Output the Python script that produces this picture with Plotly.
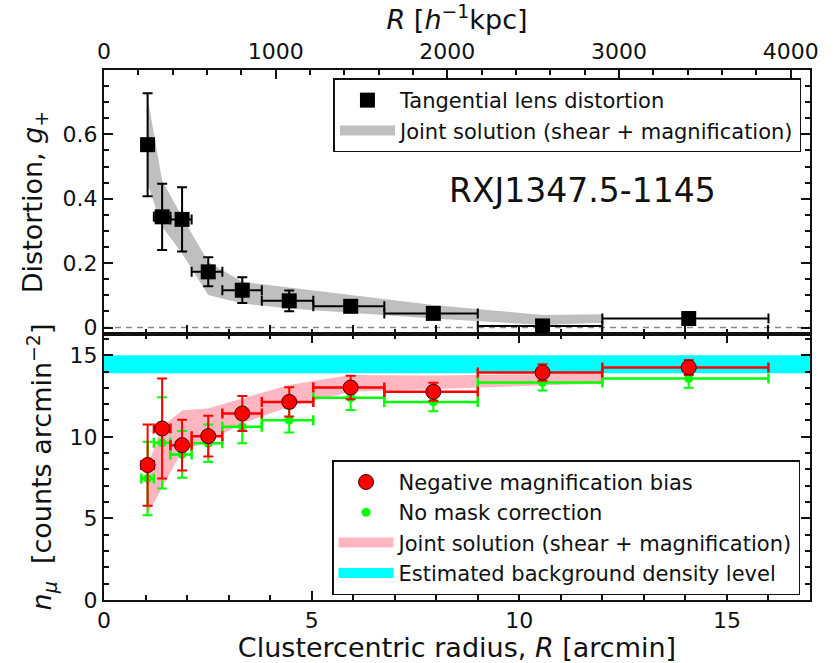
import plotly.graph_objects as go

# ---------------- data ----------------
R_arcmin = [1.05, 1.40, 1.88, 2.51, 3.33, 4.46, 5.94, 7.93, 10.56, 14.08]
bin_lo = [0.90, 1.20, 1.60, 2.11, 2.85, 3.80, 5.04, 6.75, 9.00, 12.00]
bin_hi = [1.20, 1.60, 2.11, 2.85, 3.80, 5.04, 6.75, 9.00, 12.00, 16.00]

g_plus = [0.568, 0.344, 0.336, 0.173, 0.116, 0.083, 0.066, 0.044, 0.005, 0.028]
g_err = [0.160, 0.103, 0.100, 0.045, 0.040, 0.032, 0.015, 0.015, 0.015, 0.015]

g_band_R = [1.04, 1.40, 1.88, 2.51, 3.33, 4.46, 5.94, 7.93, 10.56, 12.0]
g_band_hi = [0.721, 0.457, 0.344, 0.204, 0.142, 0.124, 0.101, 0.070, 0.039, 0.041]
g_band_lo = [0.450, 0.313, 0.230, 0.101, 0.075, 0.059, 0.046, 0.028, 0.008, 0.015]

n_mu = [8.27, 10.51, 9.49, 10.04, 11.43, 12.14, 13.02, 12.76, 13.94, 14.25]
n_mu_err = [2.49, 3.06, 1.55, 1.25, 1.07, 0.90, 0.72, 0.55, 0.50, 0.46]
n_nomask = [7.45, 9.63, 8.92, 9.60, 10.61, 11.02, 12.39, 12.14, 13.33, 13.57]
n_nomask_err = [2.25, 2.80, 1.43, 1.15, 1.00, 0.75, 0.75, 0.57, 0.50, 0.57]

n_band_R = [1.02, 1.39, 1.89, 2.50, 3.33, 4.46, 5.94, 7.93, 10.56, 12.0]
n_band_hi = [7.96, 10.61, 11.63, 11.74, 12.35, 13.17, 13.78, 13.75, 13.84, 13.88]
n_band_lo = [5.10, 6.84, 9.19, 9.69, 10.82, 11.84, 12.76, 12.90, 13.15, 13.27]

bkg_R = [0.0, 17.0]
bkg_level = [13.9, 15.0]

R_range = [0, 17]
kpc_per_arcmin = 241.9
g_ticks = [0, 0.2, 0.4, 0.6]
g_ticktext = ["0", "0.2", "0.4", "0.6"]

# derived error arrays
x_plus = [h - r for h, r in zip(bin_hi, R_arcmin)]
x_minus = [r - l for l, r in zip(bin_lo, R_arcmin)]

FONT = "DejaVu Sans"
INK = "#111111"
GRAY_BAND = "#bfbfbf"
PINK_BAND = "#ffb6c1"
CYAN = "#00ffff"

fig = go.Figure()

# ---------------- top panel ----------------
fig.add_trace(go.Scatter(
    x=g_band_R + g_band_R[::-1], y=g_band_hi + g_band_lo[::-1],
    fill="toself", fillcolor=GRAY_BAND, line=dict(width=0), mode="lines",
    showlegend=False, xaxis="x2", yaxis="y2", hoverinfo="skip"))

fig.add_trace(go.Scatter(
    x=R_arcmin, y=g_plus, mode="markers",
    marker=dict(symbol="square", size=15, color="black"),
    error_y=dict(type="data", array=g_err, color="black", thickness=2, width=5),
    error_x=dict(type="data", array=x_plus, arrayminus=x_minus, color="black",
                 thickness=2, width=5),
    name="Tangential lens distortion",
    xaxis="x2", yaxis="y2", legend="legend", legendrank=1))

# legend patch for the gray band
fig.add_trace(go.Scatter(
    x=[None], y=[None], mode="lines", line=dict(color=GRAY_BAND, width=15),
    name="Joint solution (shear + magnification)",
    xaxis="x2", yaxis="y2", legend="legend", legendrank=2, hoverinfo="skip"))

# invisible helper for the kpc axis
fig.add_trace(go.Scatter(
    x=[R_range[0] * kpc_per_arcmin, R_range[1] * kpc_per_arcmin], y=[None, None],
    mode="markers", showlegend=False, hoverinfo="skip",
    xaxis="x3", yaxis="y2"))

# ---------------- bottom panel ----------------
fig.add_trace(go.Scatter(
    x=[bkg_R[0], bkg_R[1], bkg_R[1], bkg_R[0]],
    y=[bkg_level[0], bkg_level[0], bkg_level[1], bkg_level[1]],
    fill="toself", fillcolor=CYAN, line=dict(width=0), mode="lines",
    showlegend=False, xaxis="x", yaxis="y", hoverinfo="skip"))

fig.add_trace(go.Scatter(
    x=n_band_R + n_band_R[::-1], y=n_band_hi + n_band_lo[::-1],
    fill="toself", fillcolor=PINK_BAND, line=dict(width=0), mode="lines",
    showlegend=False, xaxis="x", yaxis="y", hoverinfo="skip"))

fig.add_trace(go.Scatter(
    x=R_arcmin, y=n_nomask, mode="markers",
    marker=dict(symbol="circle", size=9, color="#00ff00"),
    error_y=dict(type="data", array=n_nomask_err, color="#00ff00", thickness=2, width=5),
    error_x=dict(type="data", array=x_plus, arrayminus=x_minus, color="#00ff00",
                 thickness=2.5, width=5),
    name="No mask correction",
    xaxis="x", yaxis="y", legend="legend2", legendrank=2))

fig.add_trace(go.Scatter(
    x=R_arcmin, y=n_mu, mode="markers",
    marker=dict(symbol="circle", size=15, color="#ff0000",
                line=dict(color="#3a0000", width=1)),
    error_y=dict(type="data", array=n_mu_err, color="#ff0000", thickness=2, width=5),
    error_x=dict(type="data", array=x_plus, arrayminus=x_minus, color="#ff0000",
                 thickness=2.5, width=5),
    name="Negative magnification bias",
    xaxis="x", yaxis="y", legend="legend2", legendrank=1))

fig.add_trace(go.Scatter(
    x=[None], y=[None], mode="lines", line=dict(color=PINK_BAND, width=15),
    name="Joint solution (shear + magnification)",
    xaxis="x", yaxis="y", legend="legend2", legendrank=3, hoverinfo="skip"))

fig.add_trace(go.Scatter(
    x=[None], y=[None], mode="lines", line=dict(color=CYAN, width=15),
    name="Estimated background density level",
    xaxis="x", yaxis="y", legend="legend2", legendrank=4, hoverinfo="skip"))

# zero line in top panel
fig.add_shape(type="line", xref="x2 domain", x0=0, x1=1, yref="y2", y0=0, y1=0,
              line=dict(color="#888888", width=1.5, dash="6px,5px"), layer="below")

split = 0.5019
tickfont = dict(family=FONT, size=22, color=INK)
titlefont = dict(family=FONT, size=27, color=INK)
minor_y = dict(ticklen=5, tickcolor=INK, tickwidth=1.5, ticks="inside")

common = dict(showline=True, linecolor=INK, linewidth=2, ticks="inside",
              tickcolor=INK, tickwidth=1.5, ticklen=9, showgrid=False,
              zeroline=False, tickfont=tickfont, automargin=False)

fig.update_layout(
    width=834, height=663,
    margin=dict(l=104, r=24, t=70, b=63),
    paper_bgcolor="white", plot_bgcolor="white",
    font=dict(family=FONT, color=INK),
    xaxis=dict(domain=[0, 1], anchor="y", range=R_range, dtick=5, mirror="ticks",
               minor=dict(dtick=1, **minor_y),
               title=dict(text="Clustercentric radius, <i>R</i> [arcmin]", font=titlefont,
                          standoff=10),
               **common),
    yaxis=dict(domain=[0, split], anchor="x", range=[0, 16.3], dtick=5, mirror="ticks",
               minor=dict(dtick=1, **minor_y),
               title=dict(text="<i>n</i><sub><i>μ</i></sub>  [counts arcmin<sup>−2</sup>]",
                          font=titlefont, standoff=10),
               **common),
    xaxis2=dict(domain=[0, 1], anchor="y2", range=R_range, matches="x", dtick=2,
                showticklabels=False, mirror=False,
                minor=dict(dtick=1, **minor_y),
                **common),
    yaxis2=dict(domain=[split, 1], anchor="x2", range=[-0.02, 0.8],
                tickvals=g_ticks, ticktext=g_ticktext, mirror="ticks",
                minor=dict(dtick=0.05, **minor_y),
                title=dict(text="Distortion, <i>g</i><sub>+</sub>", font=titlefont,
                           standoff=12),
                **common),
    xaxis3=dict(overlaying="x2", anchor="y2", side="top",
                range=[R_range[0] * kpc_per_arcmin, R_range[1] * kpc_per_arcmin],
                dtick=1000,
                minor=dict(dtick=200, **minor_y),
                title=dict(text="<i>R</i> [<i>h</i><sup>−1</sup>kpc]", font=titlefont,
                           standoff=9),
                **common),
    legend=dict(x=0.325, y=0.984, xanchor="left", yanchor="top",
                bgcolor="white", bordercolor=INK, borderwidth=1.5,
                font=dict(family=FONT, size=21, color=INK), itemwidth=55,
                traceorder="normal"),
    legend2=dict(x=0.323, y=0.2635, xanchor="left", yanchor="top",
                 bgcolor="white", bordercolor=INK, borderwidth=1.5,
                 font=dict(family=FONT, size=21, color=INK), itemwidth=55,
                 traceorder="normal"),
    annotations=[dict(text="RXJ1347.5-1145", xref="x2", yref="y2", x=11.53, y=0.426,
                      showarrow=False, font=dict(family=FONT, size=33, color=INK))],
    showlegend=True,
)

fig.write_html("out.html")
